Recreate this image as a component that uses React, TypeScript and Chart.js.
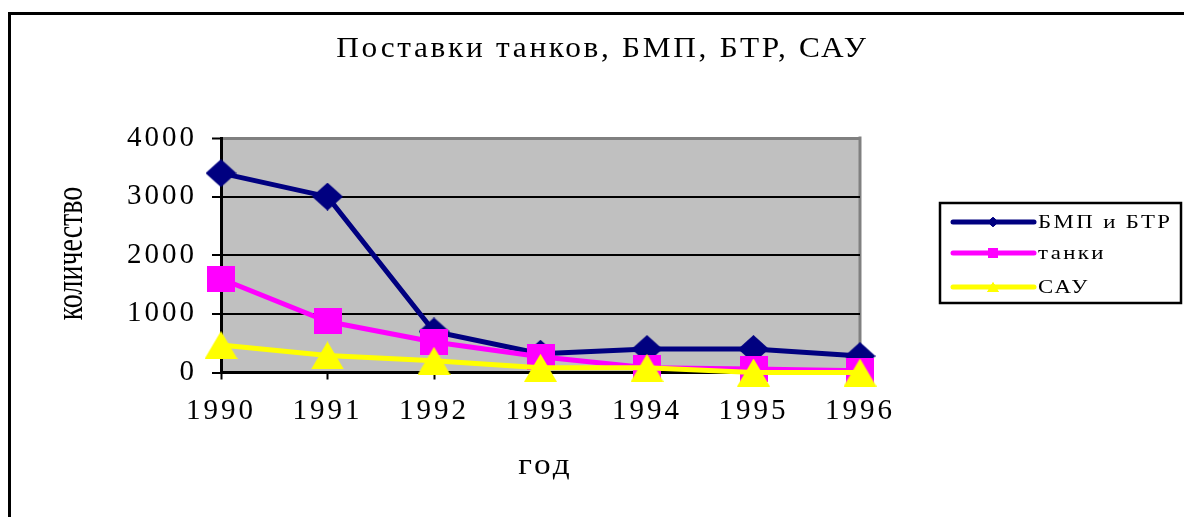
import React, { useEffect, useRef } from 'react';
import { Chart, registerables } from 'chart.js';

Chart.register(...registerables);

const years = ['1990', '1991', '1992', '1993', '1994', '1995', '1996'];
const bmpBtr = [3400, 3000, 700, 320, 400, 400, 280];
const tanks = [1600, 870, 520, 270, 80, 60, 30];
const sau = [470, 290, 200, 80, 80, 0, 0];
const yTicks = [0, 1000, 2000, 3000, 4000];
const seriesNames = ['БМП и БТР', 'танки', 'САУ'];
const titleText = 'Поставки танков, БМП, БТР, САУ';
const xTitleText = 'год';
const yTitleText = 'количество';

const FAMILY = '"Liberation Serif", "Times New Roman", serif';

function makeMarker(shape: string, w: number, h: number, color: string): HTMLCanvasElement {
  const c = document.createElement('canvas');
  c.width = w;
  c.height = h;
  const g = c.getContext('2d')!;
  g.fillStyle = color;
  g.beginPath();
  if (shape === 'diamond') {
    g.moveTo(w / 2, 0);
    g.lineTo(w, h / 2);
    g.lineTo(w / 2, h);
    g.lineTo(0, h / 2);
  } else if (shape === 'square') {
    g.rect(0, 0, w, h);
  } else {
    g.moveTo(w / 2, 0);
    g.lineTo(w, h);
    g.lineTo(0, h);
  }
  g.closePath();
  g.fill();
  return c;
}

function stretchedText(ctx: any, text: string, x: number, y: number, size: number, sx: number, spacing: number, align: string) {
  ctx.save();
  ctx.translate(x, y);
  ctx.scale(sx, 1);
  ctx.letterSpacing = `${spacing}px`;
  ctx.font = `${size}px ${FAMILY}`;
  ctx.textAlign = align;
  ctx.textBaseline = 'alphabetic';
  ctx.fillStyle = '#000';
  ctx.fillText(text, align === 'center' ? spacing / 2 : 0, 0);
  ctx.restore();
}

const decorPlugin = {
  id: 'decor',
  beforeDraw(chart: any) {
    const { ctx, chartArea: a } = chart;
    ctx.save();
    ctx.fillStyle = '#ffffff';
    ctx.fillRect(0, 0, chart.width, chart.height);
    ctx.fillStyle = '#C0C0C0';
    ctx.fillRect(a.left, a.top, a.right - a.left, a.bottom - a.top);
    ctx.strokeStyle = '#808080';
    ctx.lineWidth = 3;
    ctx.beginPath();
    ctx.moveTo(a.right, a.top - 1.5);
    ctx.lineTo(a.right, a.bottom);
    ctx.stroke();
    ctx.restore();
    ctx.letterSpacing = '3px';
  },
  afterDraw(chart: any) {
    const { ctx } = chart;
    ctx.save();
    // outer frame
    ctx.strokeStyle = '#000';
    ctx.lineWidth = 3;
    ctx.beginPath();
    ctx.moveTo(9.5, chart.height + 5);
    ctx.lineTo(9.5, 13.5);
    ctx.lineTo(chart.width + 5, 13.5);
    ctx.stroke();

    // title
    stretchedText(ctx, titleText, 601, 57, 29, 1.08, 2.5, 'center');
    // x title
    stretchedText(ctx, xTitleText, 544, 474, 29, 1.15, 2.5, 'center');

    // y title (rotated, stretched)
    ctx.save();
    ctx.letterSpacing = '0px';
    ctx.translate(82, 253.5);
    ctx.rotate(-Math.PI / 2);
    ctx.scale(1, 1.35);
    ctx.font = `28px ${FAMILY}`;
    ctx.textAlign = 'center';
    ctx.fillStyle = '#000';
    ctx.fillText(yTitleText, 0, 0);
    ctx.restore();

    // legend
    const bx = 940, by = 203, bw = 241, bh = 100;
    ctx.fillStyle = '#fff';
    ctx.fillRect(bx, by, bw, bh);
    ctx.strokeStyle = '#000';
    ctx.lineWidth = 2.5;
    ctx.strokeRect(bx, by, bw, bh);
    const rows = [222, 253, 287];
    chart.data.datasets.forEach((ds: any, i: number) => {
      const y = rows[i];
      ctx.strokeStyle = ds.borderColor;
      ctx.lineWidth = 5;
      ctx.lineCap = 'round';
      ctx.beginPath();
      ctx.moveTo(953, y);
      ctx.lineTo(1034, y);
      ctx.stroke();
      const m: HTMLCanvasElement = ds.pointStyle;
      const mw = m.width * 0.38, mh = m.height * 0.38;
      ctx.drawImage(m, 993 - mw / 2, y - mh / 2, mw, mh);
      stretchedText(ctx, ds.label, 1038, y + 6, 19, 1.2, 2, 'left');
    });
    ctx.restore();
  },
};

export default function App() {
  const ref = useRef<HTMLCanvasElement | null>(null);

  useEffect(() => {
    if (!ref.current) return;
    const diamond = makeMarker('diamond', 31, 28, '#000080');
    const square = makeMarker('square', 28, 26, '#FF00FF');
    const triangle = makeMarker('triangle', 33, 28, '#FFFF00');

    const chart = new Chart(ref.current, {
      type: 'line',
      data: {
        labels: years,
        datasets: [
          {
            label: seriesNames[0],
            data: bmpBtr,
            borderColor: '#000080',
            backgroundColor: '#000080',
            borderWidth: 5,
            pointStyle: diamond as any,
            pointRadius: 15,
            tension: 0,
            clip: false as any,
            order: 2,
          },
          {
            label: seriesNames[1],
            data: tanks,
            borderColor: '#FF00FF',
            backgroundColor: '#FF00FF',
            borderWidth: 5,
            pointStyle: square as any,
            pointRadius: 15,
            tension: 0,
            clip: false as any,
            order: 1,
          },
          {
            label: seriesNames[2],
            data: sau,
            borderColor: '#FFFF00',
            backgroundColor: '#FFFF00',
            borderWidth: 5,
            pointStyle: triangle as any,
            pointRadius: 15,
            tension: 0,
            clip: false as any,
            order: 0,
          },
        ],
      },
      options: {
        responsive: false,
        animation: false,
        devicePixelRatio: 1,
        layout: { padding: { left: 0, right: 324, top: 138, bottom: 0 } },
        plugins: {
          legend: { display: false },
          title: { display: false },
          tooltip: { enabled: false },
        },
        events: [],
        scales: {
          x: {
            type: 'category',
            offset: false,
            grid: {
              drawOnChartArea: false,
              drawTicks: true,
              tickLength: 7,
              tickColor: '#000',
              tickWidth: 2,
              color: '#000',
            },
            border: { color: '#000', width: 3 },
            ticks: {
              color: '#000',
              font: { family: FAMILY, size: 29 },
              padding: 14,
              maxRotation: 0,
              autoSkip: false,
            },
            afterFit: (s: any) => {
              s.height = 144.5;
            },
          },
          y: {
            min: 0,
            max: 4000,
            afterBuildTicks: (s: any) => {
              s.ticks = yTicks.map((v) => ({ value: v }));
            },
            ticks: {
              color: '#000',
              font: { family: FAMILY, size: 29 },
              padding: 15,
              callback: (v: any) => String(v),
            },
            grid: {
              color: (c: any) => (c.tick && c.tick.value === 4000 ? '#808080' : '#000'),
              lineWidth: (c: any) => (c.tick && c.tick.value === 4000 ? 3 : 2),
              tickColor: '#000',
              tickLength: 9,
              tickWidth: 2,
            },
            border: { color: '#000', width: 3 },
            afterFit: (s: any) => {
              s.width = 221;
            },
          },
        },
      },
      plugins: [decorPlugin],
    } as any);

    return () => chart.destroy();
  }, []);

  return (
    <div style={{ position: 'fixed', left: 0, top: 0, width: 1184, height: 517 }}>
      <canvas ref={ref} width={1184} height={517} style={{ display: 'block' }} />
    </div>
  );
}
